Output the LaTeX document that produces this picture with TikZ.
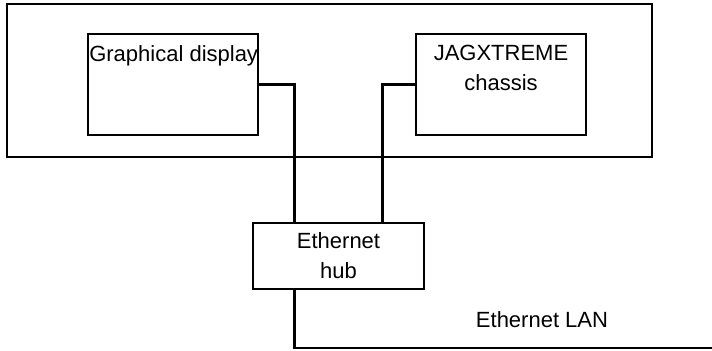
\documentclass[tikz,border=0pt]{standalone}
\usepackage{fontspec}
\setmainfont{Liberation Sans}

\begin{document}
\begin{tikzpicture}[x=0.5pt, y=-0.5pt,
  every node/.style={font=\fontsize{11}{15}\selectfont},
  unit/.style={draw, line width=1.1pt, minimum width=85pt, minimum height=50.5pt, inner sep=0pt},
  wire/.style={line width=1.1pt}
]
\useasboundingbox (0,0) rectangle (712,351);
% --- terminal housing ---
\node[draw, line width=1.1pt, minimum width=322.5pt, minimum height=76.5pt, inner sep=0pt] (housing) at (329.5,80.5) {};
\node[unit, label={[anchor=north west, inner sep=1pt, yshift=-5pt]north west:Graphical display}] (display) at (173,84.5) {};
\node[unit, label={[anchor=north, align=center, inner sep=1pt, yshift=-5pt]north:JAGXTREME\\chassis}] (chassis) at (501,84.5) {};
% --- hub and LAN ---
\node[draw, line width=1.1pt, minimum width=85.5pt, minimum height=33pt, inner sep=0pt, align=center] (hub) at (338.5,256) {Ethernet\\hub};
\node (lanlabel) at (542,320) {Ethernet LAN};
\coordinate (lanend) at (712,348);
\draw[wire] (display.east) -| ([xshift=-22pt]hub.north);
\draw[wire] (chassis.west) -| ([xshift=22pt]hub.north);
\draw[wire] ([xshift=-22pt]hub.south) |- (lanend);
\end{tikzpicture}
\end{document}
